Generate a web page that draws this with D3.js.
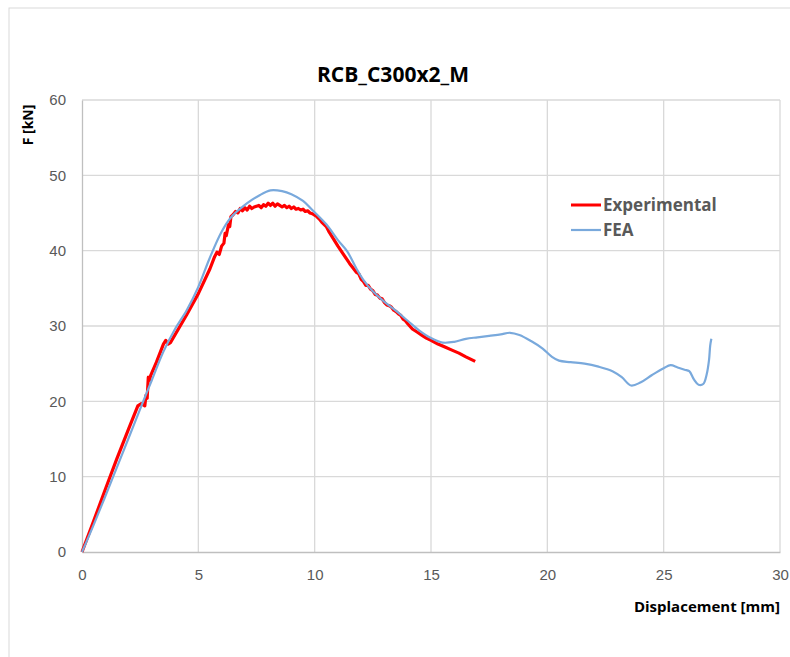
<!DOCTYPE html>
<meta charset="utf-8">
<style>
body { margin: 0; background: #fff; font-family: 'Open Sans', sans-serif; }
.tick text { fill: #595959; font-size: 15px; }
.grid line { stroke: #d9d9d9; stroke-width: 1.3px; }
.curve { fill: none; stroke-linejoin: round; }
.lbl { fill: #000; font-weight: bold; }
.leg { fill: #595959; font-weight: bold; font-size: 17px; }
</style>
<body>
<svg width="790" height="657"></svg>
<script src="https://cdn.jsdelivr.net/npm/d3@7"></script>
<script>

var title = "RCB_C300x2_M";
var xTicks = [0, 5, 10, 15, 20, 25, 30];
var yTicks = [0, 10, 20, 30, 40, 50, 60];

// Experimental [displacement mm, force kN]
var expX = [0, 0.5, 1, 1.5, 2, 2.4, 2.55, 2.7, 2.75, 2.8, 2.85, 2.9, 2.95, 3.2, 3.5, 3.6, 3.7, 3.8, 4.5, 5, 5.5, 5.7, 5.8, 5.9, 6.0, 6.1, 6.15, 6.2, 6.3, 6.35, 6.4, 6.5, 6.6, 6.7, 6.8, 6.9, 7, 7.1, 7.2, 7.3, 7.4, 7.5, 7.6, 7.7, 7.8, 7.9, 8, 8.1, 8.2, 8.3, 8.4, 8.5, 8.6, 8.7, 8.8, 8.9, 9, 9.1, 9.2, 9.3, 9.4, 9.5, 9.6, 9.7, 9.8, 9.9, 10, 10.1, 10.2, 10.3, 10.5, 10.6, 11, 11.5, 11.7, 11.8, 11.9, 12, 12.1, 12.2, 12.3, 12.4, 12.5, 12.6, 12.7, 12.8, 12.9, 13, 13.1, 13.2, 13.3, 13.4, 13.5, 13.6, 13.7, 13.8, 13.9, 14, 14.2, 14.4, 14.6, 14.8, 15, 15.3, 15.6, 15.9, 16.2, 16.5, 16.7, 16.9];
var expF = [0, 4.1, 8.3, 12.4, 16.3, 19.4, 19.7, 19.4, 20.8, 20.4, 23.2, 22.8, 23.4, 25.2, 27.6, 28.1, 27.6, 27.8, 31.5, 34.3, 37.6, 39.2, 39.8, 39.5, 40.6, 41.0, 42.3, 42.0, 43.5, 43.2, 44.5, 44.8, 45.2, 45.0, 45.6, 45.3, 45.7, 45.4, 45.9, 45.6, 45.8, 45.9, 46.0, 45.7, 46.1, 45.9, 46.3, 46.0, 46.3, 45.9, 46.2, 46.0, 45.8, 46.0, 45.7, 45.9, 45.6, 45.8, 45.5, 45.6, 45.4, 45.5, 45.2, 45.3, 45.0, 44.9, 44.7, 44.5, 44.2, 43.8, 43.2, 42.6, 40.6, 38.3, 37.5, 37.1, 36.9, 36.2, 35.9, 35.4, 35.4, 34.9, 34.7, 34.2, 34.1, 33.7, 33.6, 33.1, 32.8, 32.7, 32.5, 32.1, 31.9, 31.6, 31.4, 30.9, 30.7, 30.3, 29.6, 29.2, 28.8, 28.4, 28.1, 27.6, 27.2, 26.8, 26.4, 25.9, 25.6, 25.3];

// FEA
var feaX = [0, 0.5, 1.34, 2, 2.63, 3, 3.5, 4, 4.5, 5, 5.5, 6, 6.4, 7.1, 7.6, 8.1, 8.6, 9, 9.5, 9.9, 10.5, 11, 11.4, 11.8, 12.1, 12.5, 13, 13.5, 14, 14.5, 15, 15.5, 16, 16.5, 17, 17.5, 18, 18.4, 18.8, 19.3, 19.8, 20.2, 20.5, 21, 21.6, 22.2, 22.8, 23.2, 23.6, 24, 24.5, 25, 25.3, 25.6, 25.9, 26.1, 26.3, 26.5, 26.7, 26.85, 26.95, 27.0, 27.05];
var feaF = [0, 3.6, 10, 15.1, 20, 22.8, 26.6, 29.6, 32.1, 35.2, 39.1, 42.5, 44.4, 46.3, 47.3, 48.0, 47.9, 47.5, 46.6, 45.4, 43.5, 41.4, 39.9, 37.6, 36.1, 34.6, 33.2, 32.0, 30.7, 29.4, 28.4, 27.8, 27.9, 28.3, 28.5, 28.7, 28.9, 29.1, 28.8, 28.0, 27.0, 25.9, 25.4, 25.2, 25.0, 24.6, 24.0, 23.2, 22.1, 22.5, 23.5, 24.4, 24.8, 24.5, 24.2, 24.0, 22.9, 22.2, 22.3, 23.6, 25.5, 27.4, 28.3];

var svg = d3.select("svg");

svg.append("rect")
    .attr("x", 9).attr("y", 8)
    .attr("width", 800).attr("height", 700)
    .attr("fill", "none")
    .attr("stroke", "#d9d9d9");

var margin = {left: 82, right: 780, top: 100, bottom: 552};

var x = d3.scaleLinear().domain([0, 30]).range([margin.left, margin.right]);
var y = d3.scaleLinear().domain([0, 60]).range([margin.bottom, margin.top]);

// gridlines
var grid = svg.append("g").attr("class", "grid");
grid.selectAll(".gy").data(yTicks.slice(1)).enter().append("line")
    .attr("x1", margin.left).attr("x2", margin.right)
    .attr("y1", function(d) { return y(d); }).attr("y2", function(d) { return y(d); });
grid.selectAll(".gx").data(xTicks.slice(1)).enter().append("line")
    .attr("y1", margin.top).attr("y2", margin.bottom)
    .attr("x1", function(d) { return x(d); }).attr("x2", function(d) { return x(d); });

// axes
var xAxis = svg.append("g")
    .attr("transform", "translate(0," + margin.bottom + ")")
    .call(d3.axisBottom(x).tickValues(xTicks).tickSize(0).tickPadding(17));
var yAxis = svg.append("g")
    .attr("transform", "translate(" + margin.left + ",0)")
    .call(d3.axisLeft(y).tickValues(yTicks).tickSize(0).tickPadding(16));
[xAxis, yAxis].forEach(function(a) {
    a.select(".domain").attr("stroke", "#bfbfbf").attr("stroke-width", 1.3);
    a.selectAll("text").attr("font-family", null);
});

var line = d3.line()
    .x(function(d) { return x(d[0]); })
    .y(function(d) { return y(d[1]); });

var expData = d3.zip(expX, expF);
var feaData = d3.zip(feaX, feaF);

svg.append("path").datum(expData)
    .attr("class", "curve")
    .attr("stroke", "#ff0000")
    .attr("stroke-width", 3.2)
    .attr("d", line);

svg.append("path").datum(feaData)
    .attr("class", "curve")
    .attr("stroke", "#79a9dc")
    .attr("stroke-width", 2.2)
    .attr("d", line.curve(d3.curveCatmullRom));

// labels
svg.append("text")
    .attr("class", "lbl")
    .attr("x", 393).attr("y", 82)
    .attr("text-anchor", "middle")
    .style("font-size", "21px")
    .text(title);

svg.append("text")
    .attr("class", "lbl")
    .attr("x", margin.right).attr("y", 612)
    .attr("text-anchor", "end")
    .style("font-size", "15px")
    .text("Displacement [mm]");

svg.append("text")
    .attr("class", "lbl")
    .attr("transform", "translate(33,125) rotate(-90)")
    .attr("text-anchor", "middle")
    .style("font-size", "14px")
    .text("F [kN]");

// legend
var legend = [{name: "Experimental", color: "#ff0000", w: 3}, {name: "FEA", color: "#79a9dc", w: 2.2}];
var lg = svg.append("g").selectAll("g").data(legend).enter().append("g")
    .attr("transform", function(d, i) { return "translate(571," + (205 + i * 25) + ")"; });
lg.append("line").attr("x1", 0).attr("x2", 30)
    .attr("stroke", function(d) { return d.color; })
    .attr("stroke-width", function(d) { return d.w; });
lg.append("text").attr("class", "leg").attr("x", 32).attr("dy", "0.35em")
    .text(function(d) { return d.name; });

</script>
</body>
